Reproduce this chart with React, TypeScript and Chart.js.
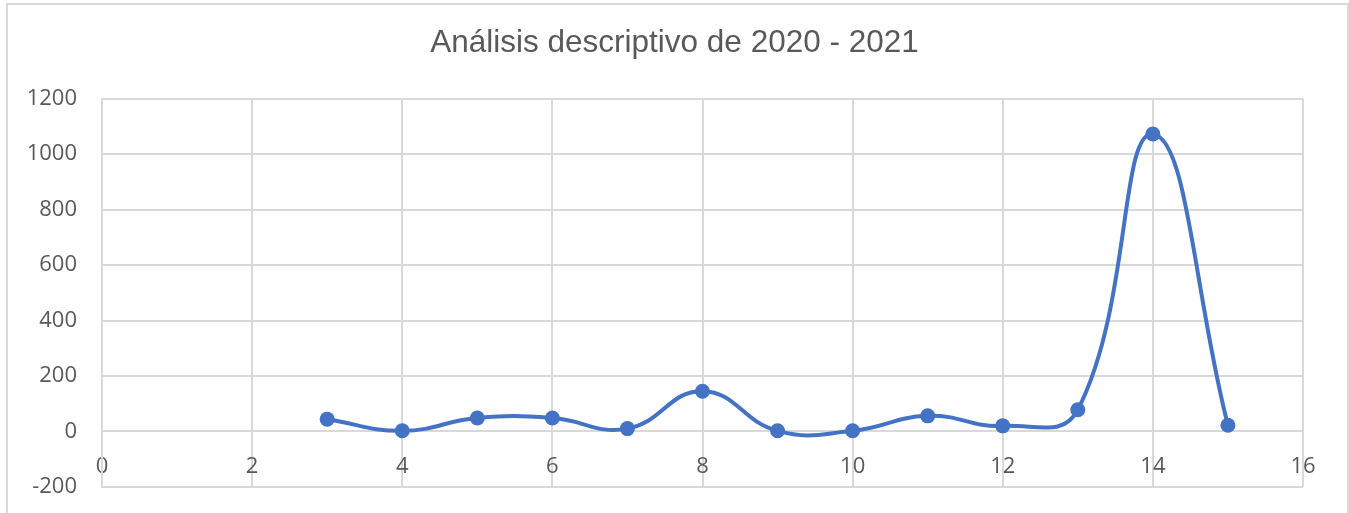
import React, { useEffect, useRef } from "react";
import { Chart, registerables } from "chart.js";

Chart.register(...registerables);

const TITLE = "Análisis descriptivo de 2020 - 2021";
const xValues = [3, 4, 5, 6, 7, 8, 9, 10, 11, 12, 13, 14, 15];
const yValues = [44, 2, 48, 48, 10, 145, 2, 2, 56, 20, 78, 1073, 22];
const X_MIN = 0;
const X_MAX = 16;
const X_STEP = 2;
const Y_MIN = -200;
const Y_MAX = 1200;
const Y_STEP = 200;

const LINE_COLOR = "#4472C4";
const GRID_COLOR = "#d9d9d9";
const TEXT_COLOR = "#595959";

export default function App() {
  const canvasRef = useRef<HTMLCanvasElement | null>(null);

  useEffect(() => {
    const canvas = canvasRef.current;
    if (!canvas) return;
    const points = xValues.map((x, i) => ({ x, y: yValues[i] }));
    const chart = new Chart(canvas, {
      type: "scatter",
      data: {
        datasets: [
          {
            data: points,
            showLine: true,
            borderColor: LINE_COLOR,
            backgroundColor: LINE_COLOR,
            borderWidth: 4,
            pointRadius: 7.5,
            pointBackgroundColor: LINE_COLOR,
            pointBorderColor: LINE_COLOR,
            pointBorderWidth: 0,
            tension: 0.45,
          },
        ],
      },
      options: {
        animation: false,
        responsive: false,
        layout: { padding: { left: 0, right: 0, top: 0, bottom: 0 } },
        plugins: {
          legend: { display: false },
          tooltip: { enabled: false },
          title: {
            display: true,
            text: TITLE,
            color: TEXT_COLOR,
            font: { family: "'Liberation Sans', Arial, sans-serif", size: 31.5, weight: "normal" },
            padding: { top: 24, bottom: 37 },
          },
        },
        scales: {
          x: {
            type: "linear",
            position: { y: 0 } as any,
            min: X_MIN,
            max: X_MAX,
            ticks: {
              stepSize: X_STEP,
              color: TEXT_COLOR,
              padding: 22,
              font: { family: "'Open Sans', sans-serif", size: 22 },
              callback: (v: any) => String(v),
            },
            grid: { color: GRID_COLOR, lineWidth: 2, drawTicks: false },
            border: { color: GRID_COLOR, width: 2 },
          },
          y: {
            type: "linear",
            min: Y_MIN,
            max: Y_MAX,
            afterFit: (scale: any) => {
              scale.width = 102;
            },
            ticks: {
              stepSize: Y_STEP,
              color: TEXT_COLOR,
              padding: 25,
              font: { family: "'Open Sans', sans-serif", size: 22 },
              callback: (v: any) => String(v),
            },
            grid: { color: GRID_COLOR, lineWidth: 2, drawTicks: false },
            border: { color: GRID_COLOR, width: 2 },
          },
          yRightSpace: {
            type: "linear",
            position: "right",
            display: true,
            ticks: { display: false },
            grid: { display: false, drawTicks: false },
            border: { display: false },
            afterFit: (scale: any) => {
              scale.width = 46;
            },
          },
        },
      },
    });
    return () => chart.destroy();
  }, []);

  return (
    <div style={{ position: "absolute", left: 0, top: 0, width: 1349, height: 513, overflow: "hidden", background: "#fff" }}>
      <div
        style={{
          position: "absolute",
          left: 6,
          top: 3,
          width: 1343,
          height: 600,
          border: `2px solid ${GRID_COLOR}`,
          boxSizing: "border-box",
        }}
      />
      <canvas
        ref={canvasRef}
        width={1349}
        height={525}
        style={{ position: "absolute", left: 0, top: 0, width: 1349, height: 525 }}
      />
    </div>
  );
}
